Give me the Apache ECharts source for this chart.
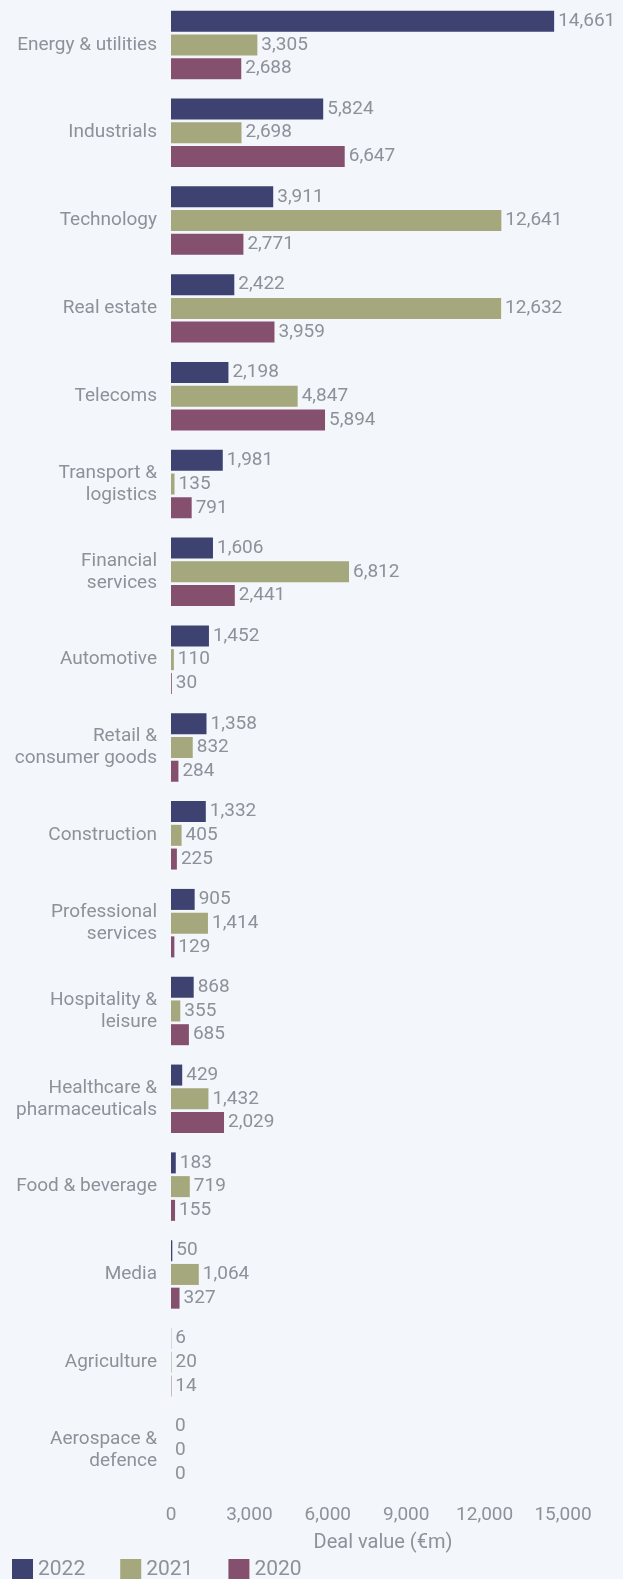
<!DOCTYPE html>
<html><head><meta charset="utf-8">
<script src="https://cdn.jsdelivr.net/npm/echarts@6/dist/echarts.min.js"></script>
<style>html,body{margin:0;padding:0;background:#f3f6fb;}#c{width:623px;height:1579px;}</style>
</head><body><div id="c"></div>
<script>
const categories = ["Energy & utilities","Industrials","Technology","Real estate","Telecoms","Transport &\nlogistics","Financial\nservices","Automotive","Retail &\nconsumer goods","Construction","Professional\nservices","Hospitality &\nleisure","Healthcare &\npharmaceuticals","Food & beverage","Media","Agriculture","Aerospace &\ndefence"];
const v2022 = [14661,5824,3911,2422,2198,1981,1606,1452,1358,1332,905,868,429,183,50,6,0];
const v2021 = [3305,2698,12641,12632,4847,135,6812,110,832,405,1414,355,1432,719,1064,20,0];
const v2020 = [2688,6647,2771,3959,5894,791,2441,30,284,225,129,685,2029,155,327,14,0];
const xTicks = [0,3000,6000,9000,12000,15000];
const seriesNames = ["2022","2021","2020"];
const colors = ["#3d4270","#a5a87c","#854f6e"];
const txt = "#8d9199";
const font = "Roboto";
const chart = echarts.init(document.getElementById('c'));
const mk = (name, data, color) => ({
  name, type:'bar', data, barWidth:21, barGap:'13%',
  itemStyle:{color},
  label:{show:true, position:'right', distance:4, color:txt, fontFamily:font, fontSize:19,
    formatter:p=>p.value.toLocaleString('en-US')}
});
chart.setOption({
  backgroundColor:'#f3f6fb',
  animation:false,
  color:colors,
  grid:{left:171, right:60, top:1, bottom:85, containLabel:false},
  xAxis:{type:'value', min:xTicks[0], max:xTicks[xTicks.length-1], interval:3000,
    axisLine:{show:false}, axisTick:{show:false}, splitLine:{show:false},
    axisLabel:{color:txt, fontFamily:font, fontSize:19, margin:12, formatter:v=>v.toLocaleString('en-US')},
    name:'Deal value (€m)', nameLocation:'middle', nameGap:39,
    nameTextStyle:{color:txt, fontFamily:font, fontSize:20, padding:[0,0,0,32]}},
  yAxis:{type:'category', data:categories, inverse:true,
    axisLine:{show:false}, axisTick:{show:false},
    axisLabel:{color:txt, fontFamily:font, fontSize:19, margin:14, lineHeight:22, align:'right'}},
  legend:{left:12, top:1559, padding:0, itemWidth:21, itemHeight:21, itemGap:35, icon:'rect',
    textStyle:{color:txt, fontFamily:font, fontSize:21}, data:seriesNames},
  series:[mk(seriesNames[0],v2022,colors[0]), mk(seriesNames[1],v2021,colors[1]), mk(seriesNames[2],v2020,colors[2])]
});
</script></body></html>
